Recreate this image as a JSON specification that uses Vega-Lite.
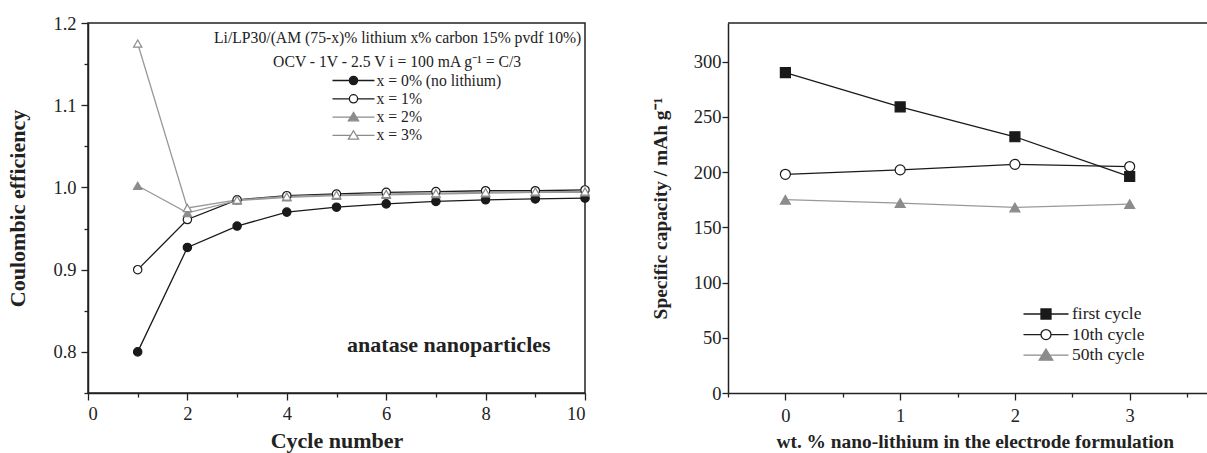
{
  "$schema": "https://vega.github.io/schema/vega-lite/v6.json",
  "background": "white",
  "padding": {"left": 6, "top": 13, "right": 0, "bottom": 0},
  "spacing": 43,
  "resolve": {
    "scale": {"color": "independent", "shape": "independent", "fill": "independent", "stroke": "independent"},
    "legend": {"color": "independent", "shape": "independent", "fill": "independent", "stroke": "independent"}
  },
  "datasets": {
    "ce": [
      {"cycle": 1, "ce": 0.800, "series": "x = 0% (no lithium)"},
      {"cycle": 2, "ce": 0.927, "series": "x = 0% (no lithium)"},
      {"cycle": 3, "ce": 0.953, "series": "x = 0% (no lithium)"},
      {"cycle": 4, "ce": 0.970, "series": "x = 0% (no lithium)"},
      {"cycle": 5, "ce": 0.976, "series": "x = 0% (no lithium)"},
      {"cycle": 6, "ce": 0.980, "series": "x = 0% (no lithium)"},
      {"cycle": 7, "ce": 0.983, "series": "x = 0% (no lithium)"},
      {"cycle": 8, "ce": 0.985, "series": "x = 0% (no lithium)"},
      {"cycle": 9, "ce": 0.986, "series": "x = 0% (no lithium)"},
      {"cycle": 10, "ce": 0.987, "series": "x = 0% (no lithium)"},
      {"cycle": 1, "ce": 0.900, "series": "x = 1%"},
      {"cycle": 2, "ce": 0.961, "series": "x = 1%"},
      {"cycle": 3, "ce": 0.985, "series": "x = 1%"},
      {"cycle": 4, "ce": 0.990, "series": "x = 1%"},
      {"cycle": 5, "ce": 0.992, "series": "x = 1%"},
      {"cycle": 6, "ce": 0.994, "series": "x = 1%"},
      {"cycle": 7, "ce": 0.995, "series": "x = 1%"},
      {"cycle": 8, "ce": 0.996, "series": "x = 1%"},
      {"cycle": 9, "ce": 0.996, "series": "x = 1%"},
      {"cycle": 10, "ce": 0.997, "series": "x = 1%"},
      {"cycle": 1, "ce": 1.002, "series": "x = 2%"},
      {"cycle": 2, "ce": 0.969, "series": "x = 2%"},
      {"cycle": 3, "ce": 0.984, "series": "x = 2%"},
      {"cycle": 4, "ce": 0.988, "series": "x = 2%"},
      {"cycle": 5, "ce": 0.990, "series": "x = 2%"},
      {"cycle": 6, "ce": 0.991, "series": "x = 2%"},
      {"cycle": 7, "ce": 0.992, "series": "x = 2%"},
      {"cycle": 8, "ce": 0.993, "series": "x = 2%"},
      {"cycle": 9, "ce": 0.994, "series": "x = 2%"},
      {"cycle": 10, "ce": 0.994, "series": "x = 2%"},
      {"cycle": 1, "ce": 1.175, "series": "x = 3%"},
      {"cycle": 2, "ce": 0.975, "series": "x = 3%"},
      {"cycle": 3, "ce": 0.985, "series": "x = 3%"},
      {"cycle": 4, "ce": 0.989, "series": "x = 3%"},
      {"cycle": 5, "ce": 0.991, "series": "x = 3%"},
      {"cycle": 6, "ce": 0.992, "series": "x = 3%"},
      {"cycle": 7, "ce": 0.993, "series": "x = 3%"},
      {"cycle": 8, "ce": 0.994, "series": "x = 3%"},
      {"cycle": 9, "ce": 0.995, "series": "x = 3%"},
      {"cycle": 10, "ce": 0.995, "series": "x = 3%"}
    ],
    "cap": [
      {"li": 0, "cap": 290, "cyc": "first cycle"},
      {"li": 1, "cap": 259, "cyc": "first cycle"},
      {"li": 2, "cap": 232, "cyc": "first cycle"},
      {"li": 3, "cap": 196, "cyc": "first cycle"},
      {"li": 0, "cap": 198, "cyc": "10th cycle"},
      {"li": 1, "cap": 202, "cyc": "10th cycle"},
      {"li": 2, "cap": 207, "cyc": "10th cycle"},
      {"li": 3, "cap": 205, "cyc": "10th cycle"},
      {"li": 0, "cap": 175, "cyc": "50th cycle"},
      {"li": 1, "cap": 172, "cyc": "50th cycle"},
      {"li": 2, "cap": 168, "cyc": "50th cycle"},
      {"li": 3, "cap": 171, "cyc": "50th cycle"}
    ]
  },
  "config": {
    "font": "Liberation Serif",
    "axis": {
      "grid": false,
      "domainColor": "#222",
      "domainWidth": 1.5,
      "tickColor": "#222",
      "tickWidth": 1.3,
      "labelColor": "#222",
      "titleColor": "#222",
      "labelFont": "Liberation Serif",
      "titleFont": "Liberation Serif",
      "labelFontSize": 18.5,
      "titleFontWeight": "bold"
    },
    "legend": {
      "labelFont": "Liberation Serif",
      "labelColor": "#222",
      "symbolStrokeWidth": 1.3,
      "symbolOpacity": 1
    }
  },
  "hconcat": [
    {
      "width": 497,
      "height": 370,
      "view": {"stroke": "#222", "strokeWidth": 1.5},
      "resolve": {
        "scale": {"color": "independent", "shape": "independent", "fill": "independent", "stroke": "independent"},
        "legend": {"color": "independent", "shape": "independent", "fill": "independent", "stroke": "independent"}
      },
      "layer": [
        {
          "data": {"name": "ce"},
          "mark": {"type": "line", "strokeWidth": 1.3},
          "encoding": {
            "x": {
              "field": "cycle", "type": "quantitative",
              "scale": {"domain": [0, 10], "nice": false},
              "axis": {
                "values": [0, 1, 2, 3, 4, 5, 6, 7, 8, 9, 10],
                "labelExpr": "datum.value % 2 == 0 ? datum.label : ''",
                "tickSize": {"condition": {"test": "datum.value % 2 == 0", "value": 7}, "value": 4},
                "labelPadding": 4,
                "title": "Cycle number",
                "titleFontSize": 22,
                "titlePadding": 8
              }
            },
            "y": {
              "field": "ce", "type": "quantitative",
              "scale": {"domain": [0.75, 1.2], "nice": false, "zero": false},
              "axis": {
                "values": [0.75, 0.8, 0.85, 0.9, 0.95, 1.0, 1.05, 1.1, 1.15, 1.2],
                "labelExpr": "abs(datum.value * 10 - round(datum.value * 10)) < 0.01 ? format(datum.value, '.1f') : ''",
                "tickSize": {"condition": {"test": "abs(datum.value * 10 - round(datum.value * 10)) < 0.01", "value": 7}, "value": 4},
                "labelPadding": 5,
                "title": "Coulombic efficiency",
                "titleFontSize": 22,
                "titlePadding": 23
              }
            },
            "color": {
              "field": "series", "type": "nominal",
              "scale": {"range": ["#1a1a1a", "#1a1a1a", "#999999", "#999999"]},
              "legend": null
            }
          }
        },
        {
          "data": {"name": "ce"},
          "mark": {"type": "point", "filled": true, "size": 70, "strokeWidth": 1.2, "opacity": 1},
          "encoding": {
            "x": {"field": "cycle", "type": "quantitative"},
            "y": {"field": "ce", "type": "quantitative"},
            "shape": {
              "field": "series", "type": "nominal",
              "scale": {"domain": ["x = 0% (no lithium)", "x = 1%", "x = 2%", "x = 3%"], "range": ["circle", "circle", "triangle-up", "triangle-up"]},
              "legend": null
            },
            "fill": {
              "field": "series", "type": "nominal",
              "scale": {"domain": ["x = 0% (no lithium)", "x = 1%", "x = 2%", "x = 3%"], "range": ["#1a1a1a", "#ffffff", "#8c8c8c", "#ffffff"]},
              "legend": null
            },
            "stroke": {
              "field": "series", "type": "nominal",
              "scale": {"domain": ["x = 0% (no lithium)", "x = 1%", "x = 2%", "x = 3%"], "range": ["#1a1a1a", "#1a1a1a", "#8c8c8c", "#8c8c8c"]},
              "legend": null
            }
          }
        },
        {
          "data": {"name": "ce"},
          "mark": {"type": "point", "filled": true, "size": 225, "strokeWidth": 1.3, "opacity": 0},
          "encoding": {
            "x": {"field": "cycle", "type": "quantitative"},
            "y": {"field": "ce", "type": "quantitative"},
            "shape": {
              "field": "series", "type": "nominal",
              "scale": {"domain": ["x = 0% (no lithium)", "x = 1%", "x = 2%", "x = 3%"], "range": [
                "M-2.8,0H-0.55M0.55,0H2.8M0.55,0C0.55,0.304 0.304,0.55 0,0.55C-0.304,0.55 -0.55,0.304 -0.55,0C-0.55,-0.304 -0.304,-0.55 0,-0.55C0.304,-0.55 0.55,-0.304 0.55,0Z",
                "M-2.8,0H-0.55M0.55,0H2.8M0.55,0C0.55,0.304 0.304,0.55 0,0.55C-0.304,0.55 -0.55,0.304 -0.55,0C-0.55,-0.304 -0.304,-0.55 0,-0.55C0.304,-0.55 0.55,-0.304 0.55,0Z",
                "M-2.8,0H-0.38M0.38,0H2.8M0,-0.62L0.68,0.5L-0.68,0.5Z",
                "M-2.8,0H-0.38M0.38,0H2.8M0,-0.62L0.68,0.5L-0.68,0.5Z"
              ]},
              "legend": {
                "title": null, "orient": "none", "legendX": 257, "legendY": 49,
                "symbolSize": 225, "symbolOpacity": 1, "labelFontSize": 15.7, "labelOffset": 14.5, "rowPadding": 1.3
              }
            },
            "fill": {
              "field": "series", "type": "nominal",
              "scale": {"domain": ["x = 0% (no lithium)", "x = 1%", "x = 2%", "x = 3%"], "range": ["#1a1a1a", "#ffffff", "#8c8c8c", "#ffffff"]},
              "legend": {
                "title": null, "orient": "none", "legendX": 257, "legendY": 49,
                "symbolSize": 225, "symbolOpacity": 1, "labelFontSize": 15.7, "labelOffset": 14.5, "rowPadding": 1.3
              }
            },
            "stroke": {
              "field": "series", "type": "nominal",
              "scale": {"domain": ["x = 0% (no lithium)", "x = 1%", "x = 2%", "x = 3%"], "range": ["#1a1a1a", "#1a1a1a", "#8c8c8c", "#8c8c8c"]},
              "legend": {
                "title": null, "orient": "none", "legendX": 257, "legendY": 49,
                "symbolSize": 225, "symbolOpacity": 1, "labelFontSize": 15.7, "labelOffset": 14.5, "rowPadding": 1.3
              }
            }
          }
        },
        {
          "data": {"values": [{"note": "Li/LP30/(AM (75-x)% lithium x% carbon 15% pvdf 10%)"}]},
          "mark": {"type": "text", "align": "center", "baseline": "middle", "fontSize": 15.7, "color": "#222"},
          "encoding": {
            "x": {"datum": 6.23},
            "y": {"datum": 1.1814},
            "text": {"field": "note"}
          }
        },
        {
          "data": {"values": [{"note": "OCV - 1V - 2.5 V i = 100 mA g⁻¹ = C/3"}]},
          "mark": {"type": "text", "align": "center", "baseline": "middle", "fontSize": 15.7, "color": "#222"},
          "encoding": {
            "x": {"datum": 6.22},
            "y": {"datum": 1.1528},
            "text": {"field": "note"}
          }
        },
        {
          "data": {"values": [{"note": "anatase nanoparticles"}]},
          "mark": {"type": "text", "align": "center", "baseline": "middle", "fontSize": 22, "fontWeight": "bold", "color": "#222"},
          "encoding": {
            "x": {"datum": 7.26},
            "y": {"datum": 0.8081},
            "text": {"field": "note"}
          }
        }
      ]
    },
    {
      "width": 493.5,
      "height": 370,
      "view": {"stroke": null},
      "resolve": {
        "scale": {"color": "independent", "shape": "independent", "fill": "independent", "stroke": "independent"},
        "legend": {"color": "independent", "shape": "independent", "fill": "independent", "stroke": "independent"}
      },
      "layer": [
        {
          "data": {"name": "cap"},
          "mark": {"type": "line", "strokeWidth": 1.3},
          "encoding": {
            "x": {
              "field": "li", "type": "quantitative",
              "scale": {"domain": [-0.5, 3.8], "nice": false, "zero": false},
              "axis": {
                "values": [-0.5, 0, 0.5, 1, 1.5, 2, 2.5, 3, 3.5],
                "labelExpr": "datum.value % 1 == 0 ? format(datum.value, 'd') : ''",
                "tickSize": {"condition": {"test": "datum.value % 1 == 0", "value": 7}, "value": 4},
                "labelPadding": 6,
                "title": "wt. % nano-lithium in the electrode formulation",
                "titleFontSize": 19.4,
                "titlePadding": 8
              }
            },
            "y": {
              "field": "cap", "type": "quantitative",
              "scale": {"domain": [0, 335], "nice": false},
              "axis": {
                "values": [0, 25, 50, 75, 100, 125, 150, 175, 200, 225, 250, 275, 300, 325],
                "labelExpr": "datum.value % 50 == 0 ? datum.label : ''",
                "tickSize": {"condition": {"test": "datum.value % 50 == 0", "value": 6}, "value": 4},
                "labelPadding": 1,
                "title": "Specific capacity / mAh g⁻¹",
                "titleFontSize": 19.4,
                "titlePadding": 23
              }
            },
            "color": {
              "field": "cyc", "type": "nominal",
              "scale": {"range": ["#1a1a1a", "#999999", "#1a1a1a"]},
              "legend": null
            }
          }
        },
        {
          "data": {"name": "cap"},
          "mark": {"type": "point", "filled": true, "size": 100, "strokeWidth": 1.2, "opacity": 1},
          "encoding": {
            "x": {"field": "li", "type": "quantitative"},
            "y": {"field": "cap", "type": "quantitative"},
            "shape": {
              "field": "cyc", "type": "nominal",
              "scale": {"domain": ["first cycle", "10th cycle", "50th cycle"], "range": ["square", "circle", "triangle-up"]},
              "legend": null
            },
            "fill": {
              "field": "cyc", "type": "nominal",
              "scale": {"domain": ["first cycle", "10th cycle", "50th cycle"], "range": ["#1a1a1a", "#ffffff", "#8c8c8c"]},
              "legend": null
            },
            "stroke": {
              "field": "cyc", "type": "nominal",
              "scale": {"domain": ["first cycle", "10th cycle", "50th cycle"], "range": ["#1a1a1a", "#1a1a1a", "#8c8c8c"]},
              "legend": null
            }
          }
        },
        {
          "data": {"name": "cap"},
          "mark": {"type": "point", "filled": true, "size": 400, "strokeWidth": 1.3, "opacity": 0},
          "encoding": {
            "x": {"field": "li", "type": "quantitative"},
            "y": {"field": "cap", "type": "quantitative"},
            "shape": {
              "field": "cyc", "type": "nominal",
              "scale": {"domain": ["first cycle", "10th cycle", "50th cycle"], "range": [
                "M-2.25,0H-0.5M0.5,0H2.25M-0.5,-0.5H0.5V0.5H-0.5Z",
                "M-2.25,0H-0.5M0.5,0H2.25M0.5,0C0.5,0.276 0.276,0.5 0,0.5C-0.276,0.5 -0.5,0.276 -0.5,0C-0.5,-0.276 -0.276,-0.5 0,-0.5C0.276,-0.5 0.5,-0.276 0.5,0Z",
                "M-2.25,0H-0.45M0.45,0H2.25M0,-0.62L0.68,0.5L-0.68,0.5Z"
              ]},
              "legend": {
                "title": null, "orient": "none", "legendX": 307, "legendY": 280,
                "symbolSize": 400, "symbolOpacity": 1, "labelFontSize": 17.5, "labelOffset": 15, "rowPadding": 0.6
              }
            },
            "fill": {
              "field": "cyc", "type": "nominal",
              "scale": {"domain": ["first cycle", "10th cycle", "50th cycle"], "range": ["#1a1a1a", "#ffffff", "#8c8c8c"]},
              "legend": {
                "title": null, "orient": "none", "legendX": 307, "legendY": 280,
                "symbolSize": 400, "symbolOpacity": 1, "labelFontSize": 17.5, "labelOffset": 15, "rowPadding": 0.6
              }
            },
            "stroke": {
              "field": "cyc", "type": "nominal",
              "scale": {"domain": ["first cycle", "10th cycle", "50th cycle"], "range": ["#1a1a1a", "#1a1a1a", "#8c8c8c"]},
              "legend": {
                "title": null, "orient": "none", "legendX": 307, "legendY": 280,
                "symbolSize": 400, "symbolOpacity": 1, "labelFontSize": 17.5, "labelOffset": 15, "rowPadding": 0.6
              }
            }
          }
        },
        {
          "data": {"values": [{}]},
          "mark": {"type": "rule", "color": "#222", "strokeWidth": 1.5},
          "encoding": {
            "y": {"datum": 335}
          }
        }
      ]
    }
  ]
}
